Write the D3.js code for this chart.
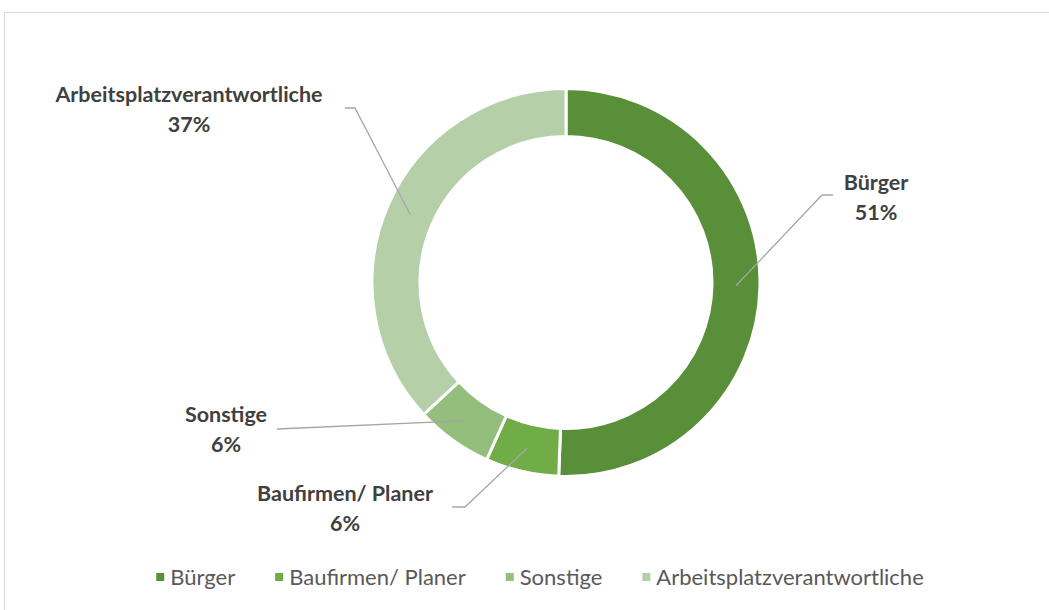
<!DOCTYPE html>
<html>
<head>
<meta charset="utf-8">
<script src="https://cdn.jsdelivr.net/npm/d3@7"></script>
<style>
  body { margin: 0; background: #fff; }
</style>
</head>
<body>
<div id="chart"></div>
<script>
// data (shares in percent)
const categories = ["Bürger", "Baufirmen/ Planer", "Sonstige", "Arbeitsplatzverantwortliche"];
const shares = [50.6, 6.1, 6.4, 36.9];
const colours = ["#5A8F3A", "#70AD47", "#93BE7C", "#B5D0A9"];

const width = 1049;
const height = 610;
const cx = 566;
const cy = 282.5;
const outerR = 194;
const innerR = 146;

// label layout: centre x of text block, baseline of first line, leader start and elbow
const labelLayout = [
    { x: 876, y: 190, line: [[833, 195], [822, 195]] },
    { x: 345, y: 501, line: [[452, 507], [465, 507]] },
    { x: 226, y: 422, line: [[277, 429]] },
    { x: 189, y: 102, line: [[345, 108], [355, 108]] }
];

const data = categories.map((c, i) => ({ name: c, value: shares[i], colour: colours[i], layout: labelLayout[i] }));

const svg = d3.select("#chart").append("svg")
    .attr("width", width)
    .attr("height", height)
    .attr("viewBox", [0, 0, width, height]);

//chart frame
svg.append("rect")
    .attr("x", 4.5)
    .attr("y", 12.5)
    .attr("width", width + 20)
    .attr("height", height + 20)
    .attr("fill", "#fff")
    .attr("stroke", "#d9d9d9")
    .attr("stroke-width", 1);

const pie = d3.pie().sort(null).value(d => d.value);
const arcs = pie(data);

const arc = d3.arc().innerRadius(innerR).outerRadius(outerR);
const mid = d3.arc().innerRadius((innerR + outerR) / 2).outerRadius((innerR + outerR) / 2);

const g = svg.append("g").attr("transform", `translate(${cx},${cy})`);

g.selectAll("path")
    .data(arcs)
    .join("path")
    .attr("d", arc)
    .attr("fill", d => d.data.colour)
    .attr("stroke", "#fff")
    .attr("stroke-width", 3)
    .attr("stroke-linejoin", "miter");

//leader lines from the label to the middle of the slice
svg.append("g")
    .selectAll("path")
    .data(arcs)
    .join("path")
    .attr("fill", "none")
    .attr("stroke", "#a6a6a6")
    .attr("stroke-width", 1.3)
    .attr("d", d => {
        const [mx, my] = mid.centroid(d);
        const pts = d.data.layout.line.concat([[cx + mx, cy + my]]);
        return d3.line()(pts);
    });

//data labels
const labels = svg.append("g")
    .attr("font-family", "Lato, 'Open Sans', sans-serif")
    .attr("font-weight", "bold")
    .attr("font-size", 21.5)
    .attr("fill", "#404040")
    .attr("text-anchor", "middle")
    .selectAll("text")
    .data(arcs)
    .join("text")
    .attr("x", d => d.data.layout.x)
    .attr("y", d => d.data.layout.y);

labels.append("tspan")
    .attr("x", d => d.data.layout.x)
    .text(d => d.data.name);
labels.append("tspan")
    .attr("x", d => d.data.layout.x)
    .attr("dy", 29.5)
    .text(d => Math.round(d.data.value) + "%");

//legend, laid out from measured text widths and centred
const legend = svg.append("g")
    .attr("font-family", "Lato, 'Open Sans', sans-serif")
    .attr("font-size", 22)
    .attr("fill", "#595959");

const items = legend.selectAll("g")
    .data(data)
    .join("g");

items.append("rect")
    .attr("width", 8)
    .attr("height", 8)
    .attr("y", -4)
    .attr("fill", d => d.colour);

items.append("text")
    .attr("x", 14)
    .attr("dy", "0.35em")
    .text(d => d.name);

let offset = 0;
const xs = [];
items.each(function () {
    xs.push(offset);
    const w = d3.select(this).select("text").node().getComputedTextLength();
    offset += 14 + w + 40;
});
const totalW = offset - 40;
const legendLeft = 540 - totalW / 2;
items.attr("transform", (d, i) => `translate(${legendLeft + xs[i]},577)`);
</script>
</body>
</html>
